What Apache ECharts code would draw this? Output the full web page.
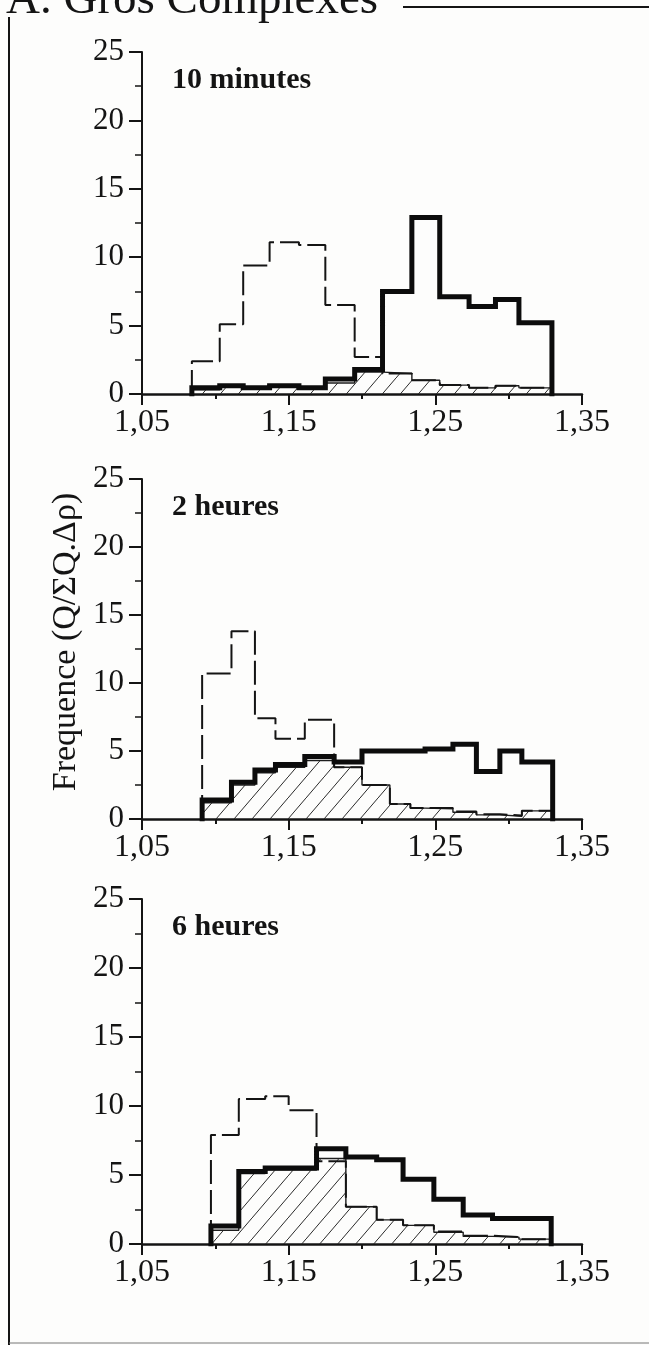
<!DOCTYPE html>
<html>
<head>
<meta charset="utf-8">
<script src="https://cdn.jsdelivr.net/npm/echarts@6/dist/echarts.min.js"></script>
<style>
  html, body { margin: 0; padding: 0; background: #fdfdfc; }
  #chart { width: 649px; height: 1345px; }
</style>
</head>
<body>
<div id="chart"></div>
<script>
// Density classes (bin edges) and frequencies for each sampling time.
// "total" = heavy solid outline, "dashed" = dashed outline, "hatched" = hatched area.
const edges10min   = [1.084, 1.103, 1.119, 1.137, 1.157, 1.175, 1.195, 1.214, 1.234, 1.253, 1.273, 1.291, 1.307, 1.3295];
const total10min   = [0.45, 0.6, 0.45, 0.6, 0.45, 1.1, 1.8, 7.5, 12.9, 7.1, 6.4, 6.9, 5.2];
const dashed10min  = [2.4, 5.1, 9.4, 11.1, 10.9, 6.5, 2.7, 1.5, 1.0, 0.65, 0.45, 0.6, 0.45];
const hatched10min = [0.3, 0.5, 0.35, 0.5, 0.4, 0.8, 1.6, 1.5, 1.0, 0.65, 0.45, 0.6, 0.45];

const edges2h   = [1.091, 1.111, 1.127, 1.141, 1.161, 1.181, 1.2, 1.219, 1.233, 1.243, 1.262, 1.278, 1.294, 1.309, 1.33];
const total2h   = [1.4, 2.7, 3.6, 4.0, 4.6, 4.2, 5.0, 5.0, 5.0, 5.15, 5.5, 3.5, 5.0, 4.2];
const dashed2h  = [10.7, 13.8, 7.4, 5.9, 7.3, 3.8, 2.5, 1.1, 0.8, 0.8, 0.55, 0.35, 0.25, 0.6];
const hatched2h = [1.2, 2.5, 3.4, 3.8, 4.3, 3.8, 2.5, 1.1, 0.8, 0.75, 0.5, 0.3, 0.2, 0.6];

const edges6h   = [1.097, 1.116, 1.134, 1.150, 1.169, 1.189, 1.210, 1.228, 1.249, 1.269, 1.289, 1.307, 1.329];
const total6h   = [1.3, 5.25, 5.5, 5.5, 6.9, 6.3, 6.1, 4.7, 3.25, 2.1, 1.85, 1.85];
const dashed6h  = [7.9, 10.5, 10.7, 9.7, 6.0, 2.7, 1.75, 1.35, 0.9, 0.6, 0.5, 0.35];
const hatched6h = [1.0, 5.1, 5.35, 5.35, 6.2, 2.7, 1.75, 1.35, 0.85, 0.55, 0.5, 0.35];

const panelTitles = ['10 minutes', '2 heures', '6 heures'];
const xMajorTicks = [1.05, 1.15, 1.25, 1.35];
const heading = 'A. Gros Complexes';
const yTitle = 'Frequence (Q/ΣQ.Δρ)';

const panels = [
  { edges: edges10min, total: total10min, dashed: dashed10min, hatched: hatched10min },
  { edges: edges2h,    total: total2h,    dashed: dashed2h,    hatched: hatched2h },
  { edges: edges6h,    total: total6h,    dashed: dashed6h,    hatched: hatched6h }
];

// layout of the three stacked plots
const gridBoxes = [
  { left: 142, top: 52,  width: 440, height: 342 },
  { left: 142, top: 479, width: 440, height: 340 },
  { left: 142, top: 899, width: 440, height: 345 }
];

const INK = '#141414';
const SERIF = '"Liberation Serif", "Times New Roman", serif';

// step outline of a histogram: up from zero at the first edge, across each bin, down at the last edge
function histOutline(edges, vals) {
  const pts = [[edges[0], 0]];
  for (let i = 0; i < vals.length; i++) {
    pts.push([edges[i], vals[i]]);
    pts.push([edges[i + 1], vals[i]]);
  }
  pts.push([edges[edges.length - 1], 0]);
  return pts;
}

// diagonal hatch tile used as area fill
function hatchTile() {
  const w = 18, h = 21;
  const c = document.createElement('canvas');
  c.width = w; c.height = h;
  const ctx = c.getContext('2d');
  ctx.strokeStyle = '#2a2a2a';
  ctx.lineWidth = 1;
  ctx.beginPath();
  ctx.moveTo(-w * 0.2, h * 1.2);
  ctx.lineTo(w * 1.2, -h * 0.2);
  ctx.stroke();
  return c;
}
const hatch = { image: hatchTile(), repeat: 'repeat' };

const fmtX = v => v.toFixed(2).replace('.', ',');

const grids = [], xAxes = [], yAxes = [], series = [];
panels.forEach((p, k) => {
  grids.push(Object.assign({ containLabel: false }, gridBoxes[k]));
  // base axis: line + short ticks every 0,05
  xAxes.push({
    gridIndex: k, type: 'value', min: 1.05, max: 1.35, interval: 0.05,
    axisLine: { show: true, onZero: false, lineStyle: { color: INK, width: 2.5 } },
    axisTick: { show: true, length: 5, lineStyle: { color: INK, width: 2 } },
    axisLabel: { show: false },
    splitLine: { show: false }
  });
  // labelled major ticks
  xAxes.push({
    gridIndex: k, type: 'value', min: 1.05, max: 1.35, position: 'bottom',
    axisLine: { show: false },
    axisTick: { show: true, customValues: xMajorTicks, length: 11, lineStyle: { color: INK, width: 2 } },
    axisLabel: {
      show: true, customValues: xMajorTicks, formatter: fmtX, margin: 13,
      color: INK, fontFamily: SERIF, fontSize: 32
    },
    splitLine: { show: false }
  });
  yAxes.push({
    gridIndex: k, type: 'value', min: 0, max: 25, interval: 5,
    axisLine: { show: true, lineStyle: { color: INK, width: 2 } },
    axisTick: { show: true, inside: false, length: 13, lineStyle: { color: INK, width: 2 } },
    minorTick: { show: true, splitNumber: 2, length: 7, lineStyle: { color: INK, width: 1.5 } },
    axisLabel: { color: INK, fontFamily: SERIF, fontSize: 31, margin: 18 },
    splitLine: { show: false }
  });

  const xi = k * 2;
  series.push({
    type: 'line', xAxisIndex: xi, yAxisIndex: k, z: 2,
    data: histOutline(p.edges, p.hatched),
    showSymbol: false, silent: true, animation: false,
    lineStyle: { color: '#1e1e1e', width: 1.4 },
    areaStyle: { color: hatch, opacity: 1 }
  });
  series.push({
    type: 'line', xAxisIndex: xi, yAxisIndex: k, z: 3,
    data: histOutline(p.edges, p.dashed),
    showSymbol: false, silent: true, animation: false,
    lineStyle: { color: INK, width: 2, type: [24, 6] }
  });
  series.push({
    type: 'line', xAxisIndex: xi, yAxisIndex: k, z: 4,
    data: histOutline(p.edges, p.total),
    showSymbol: false, silent: true, animation: false,
    lineStyle: { color: '#0c0c0c', width: 5, join: 'miter', cap: 'square' }
  });
});

const graphics = [
  // heading and frame
  { type: 'text', x: 6, y: 24, style: { text: heading, font: '47px ' + SERIF, fill: INK, textVerticalAlign: 'bottom' } },
  { type: 'line', shape: { x1: 403, y1: 7, x2: 649, y2: 7 }, style: { stroke: INK, lineWidth: 2 } },
  { type: 'line', shape: { x1: 9, y1: 17, x2: 9, y2: 1345 }, style: { stroke: INK, lineWidth: 2 } },
  { type: 'line', shape: { x1: 9, y1: 1343, x2: 649, y2: 1343 }, style: { stroke: '#777', lineWidth: 1 } },
  // shared y-axis title
  { type: 'text', x: 66, y: 642, rotation: Math.PI / 2,
    style: { text: yTitle, font: '34px ' + SERIF, fill: INK, textAlign: 'center', textVerticalAlign: 'middle' } }
];
panelTitles.forEach((t, k) => {
  graphics.push({
    type: 'text', x: 172, y: gridBoxes[k].top + 43,
    style: { text: t, font: 'bold 30px ' + SERIF, fill: INK, textVerticalAlign: 'bottom' }
  });
});

const chart = echarts.init(document.getElementById('chart'), null, { renderer: 'canvas' });
chart.setOption({
  animation: false,
  backgroundColor: '#fdfdfc',
  grid: grids,
  xAxis: xAxes,
  yAxis: yAxes,
  series: series,
  graphic: graphics
});
</script>
</body>
</html>
